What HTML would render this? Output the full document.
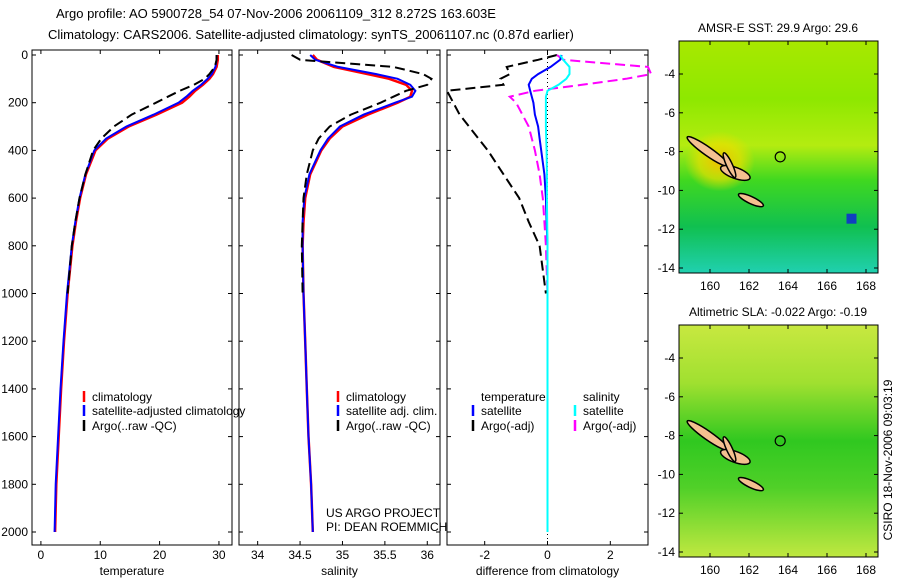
<!DOCTYPE html>
<html><head><meta charset="utf-8"><style>
body{margin:0;background:#fff}
svg{font-family:"Liberation Sans",sans-serif;font-size:12px}
</style></head><body>
<svg id="c" width="900" height="580" viewBox="0 0 900 580">
<defs>
<linearGradient id="sstg" x1="0" y1="0" x2="0" y2="1">
<stop offset="0" stop-color="#a8e800"/><stop offset="0.25" stop-color="#8ee800"/><stop offset="0.45" stop-color="#b4ec10"/><stop offset="0.6" stop-color="#40d820"/><stop offset="0.8" stop-color="#10c050"/><stop offset="1" stop-color="#20d0b0"/></linearGradient>
<linearGradient id="slag" x1="0" y1="0" x2="0" y2="1">
<stop offset="0" stop-color="#c8e840"/><stop offset="0.25" stop-color="#a0e030"/><stop offset="0.5" stop-color="#30c820"/><stop offset="0.7" stop-color="#50d028"/><stop offset="1" stop-color="#c0e840"/></linearGradient>
<radialGradient id="warm" cx="0.5" cy="0.5" r="0.5"><stop offset="0" stop-color="#f0c000"/><stop offset="0.6" stop-color="#e8e000" stop-opacity="0.7"/><stop offset="1" stop-color="#e8e000" stop-opacity="0"/></radialGradient>
</defs>
<text x="56" y="18" font-size="13">Argo profile: AO 5900728_54 07-Nov-2006 20061109_312 8.272S 163.603E</text>
<text x="48" y="39" font-size="13">Climatology: CARS2006. Satellite-adjusted climatology: synTS_20061107.nc (0.87d earlier)</text>
<g id="plots"></g>
<g id="maps"></g>
<text x="326" y="517">US ARGO PROJECT</text>
<text x="326" y="531">PI: DEAN ROEMMICH</text>
<text transform="translate(892,460) rotate(-90)" text-anchor="middle">CSIRO 18-Nov-2006 09:03:19</text>
</svg>
<script>
const depth=[0,20,50,80,100,125,150,175,200,250,300,350,400,500,600,700,800,1000,1200,1400,1600,1800,2000];
const tClim=[29.8,29.8,29.6,29.0,28.4,27.3,26.0,25.0,23.8,19.5,14.8,11.3,9.2,7.6,6.6,5.9,5.3,4.5,3.9,3.4,3.0,2.6,2.4];
const tSat=[29.6,29.6,29.4,28.8,28.1,27.0,25.6,24.5,23.2,19.0,14.4,11.0,9.0,7.5,6.5,5.8,5.2,4.4,3.8,3.3,2.9,2.5,2.3];
const tArgo=[29.6,29.6,29.3,28.4,27.6,25.8,23.4,21.4,19.4,15.3,12.3,10.2,8.8,7.5,6.5,5.8,5.2,4.5];
const sClim=[34.65,34.7,34.9,35.3,35.55,35.75,35.82,35.8,35.65,35.3,35.0,34.85,34.75,34.62,34.56,34.54,34.53,34.54,34.56,34.58,34.6,34.63,34.65];
const sSat=[34.62,34.68,34.95,35.4,35.65,35.8,35.86,35.82,35.62,35.25,34.97,34.83,34.74,34.61,34.55,34.53,34.53,34.54,34.56,34.58,34.6,34.63,34.65];
const sArgo=[34.4,34.5,35.6,35.95,36.05,36.0,35.75,35.6,35.45,35.1,34.85,34.72,34.65,34.58,34.54,34.53,34.52,34.53];
const dTSat=[0.45,0.4,0.1,-0.3,-0.5,-0.6,-0.55,-0.5,-0.45,-0.4,-0.3,-0.25,-0.2,-0.1,-0.05,-0.03,0,0,0,0,0,0,0];
const dTArgo=[0.3,-0.3,-1.3,-1.2,-1.5,-1.4,-3.2,-3.1,-3.0,-2.8,-2.5,-2.2,-1.9,-1.4,-0.9,-0.6,-0.25,-0.05];
const dSSat=[0.4,0.5,0.7,0.7,0.6,0.35,0.0,-0.05,-0.05,-0.05,-0.05,-0.04,-0.03,-0.02,-0.02,-0.01,0,0,0,0,0,0,0];
const dSArgo=[0.3,0.5,3.2,3.3,2.5,1.1,-0.4,-1.2,-1.0,-0.8,-0.6,-0.5,-0.4,-0.25,-0.15,-0.1,-0.05,0];
const depthTicks=[0,200,400,600,800,1000,1200,1400,1600,1800,2000];
const NS='http://www.w3.org/2000/svg';
function mk(p,t,a){const e=document.createElementNS(NS,t);for(const k in a)e.setAttribute(k,a[k]);p.appendChild(e);return e;}
const G=document.getElementById('plots');
const y=d=>55+d*477/2000;
const panels=[
 {x0:32,x1:232,v0:-1.5,v1:32.2,ticks:[0,10,20,30],lab:'temperature',name:'temperature'},
 {x0:239,x1:440,v0:33.78,v1:36.15,ticks:[34,34.5,35,35.5,36],lab:'salinity',name:'salinity'},
 {x0:447,x1:648,v0:-3.2,v1:3.2,ticks:[-2,0,2],lab:'difference from climatology',name:'difference'}];
panels.forEach((P,i)=>{
 P.x=v=>P.x0+(v-P.v0)/(P.v1-P.v0)*(P.x1-P.x0);
 const g=mk(G,'g',{});
 
 
 const r=mk(g,'rect',{x:P.x0,y:50,width:P.x1-P.x0,height:495,fill:'none',stroke:'#000'});
 
 
 depthTicks.forEach(d=>{
  mk(g,'line',{x1:P.x0,x2:P.x0+4,y1:y(d),y2:y(d),stroke:'#000'});
  mk(g,'line',{x1:P.x1,x2:P.x1-4,y1:y(d),y2:y(d),stroke:'#000'});
  if(i==0){const t=mk(g,'text',{x:28,y:y(d)+4,'text-anchor':'end'});t.textContent=d;
   
   }
 });
 P.ticks.forEach(v=>{
  mk(g,'line',{x1:P.x(v),x2:P.x(v),y1:545,y2:541,stroke:'#000'});
  mk(g,'line',{x1:P.x(v),x2:P.x(v),y1:50,y2:54,stroke:'#000'});
  const t=mk(g,'text',{x:P.x(v),y:559,'text-anchor':'middle'});t.textContent=v;
  
  
 });
 const t=mk(g,'text',{x:(P.x0+P.x1)/2,y:575,'text-anchor':'middle'});t.textContent=P.lab;
 
 
});
function line(P,vals,col,w,dash,name){
 const pts=vals.map((v,k)=>P.x(v).toFixed(1)+','+y(depth[k]).toFixed(1)).join(' ');
 const e=mk(G,'polyline',{points:pts,fill:'none',stroke:col,'stroke-width':w});
 if(dash)e.setAttribute('stroke-dasharray',dash);
 
 
}
const [P1,P2,P3]=panels;
line(P1,tClim,'#f00',2.5,null,'temperature-climatology-line');
line(P1,tSat,'#00f',2,null,'temperature-satellite-line');
line(P1,tArgo,'#000',2,'10,5','temperature-argo-line');
line(P2,sClim,'#f00',2.5,null,'salinity-climatology-line');
line(P2,sSat,'#00f',2,null,'salinity-satellite-line');
line(P2,sArgo,'#000',2,'10,5','salinity-argo-line');
mk(G,'line',{x1:P3.x(0),x2:P3.x(0),y1:50,y2:545,stroke:'#000','stroke-dasharray':'1,3'});
line(P3,dTArgo,'#000',2,'10,5','temp-diff-argo-line');
line(P3,dSArgo,'#f0f',2,'10,5','sal-diff-argo-line');
line(P3,dTSat,'#00f',2,null,'temp-diff-satellite-line');
line(P3,dSSat,'#0ff',2,null,'sal-diff-satellite-line');
function leg(x,yy,col,dash,txt,name){
 const g=mk(G,'g',{});
 
 
 mk(g,'line',{x1:x,x2:x,y1:yy-10,y2:yy+1,stroke:col,'stroke-width':2.5});
 const t=mk(g,'text',{x:x+8,y:yy});t.textContent=txt;
}
leg(84,401,'#f00',0,'climatology','legend-entry');
leg(84,415,'#00f',0,'satellite-adjusted climatology','legend-entry');
leg(84,430,'#000',0,'Argo(..raw -QC)','legend-entry');
leg(338,401,'#f00',0,'climatology','legend-entry');
leg(338,415,'#00f',0,'satellite adj. clim.','legend-entry');
leg(338,430,'#000',0,'Argo(..raw -QC)','legend-entry');
const tt=mk(G,'text',{x:481,y:401});tt.textContent='temperature';
const st=mk(G,'text',{x:583,y:401});st.textContent='salinity';
leg(473,415,'#00f',0,'satellite','legend-entry');
leg(473,430,'#000',0,'Argo(-adj)','legend-entry');
leg(575,415,'#0ff',0,'satellite','legend-entry');
leg(575,430,'#f0f',0,'Argo(-adj)','legend-entry');
// maps
const M=document.getElementById('maps');
const lonTicks=[160,162,164,166,168], latTicks=[-4,-6,-8,-10,-12,-14];
const islands=[[159.9,-8.0,1.3,0.22,35],[161.3,-9.1,0.8,0.28,20],[161.0,-8.7,0.15,0.7,-25],[162.1,-10.5,0.7,0.18,25]];
[[41,'AMSR-E SST: 29.9 Argo: 29.6','sst','url(#sstg)'],[325,'Altimetric SLA: -0.022 Argo: -0.19','sla','url(#slag)']].forEach(([top,title,nm,fill])=>{
 const g=mk(M,'g',{});
 
 
 const lx=v=>710+(v-160)*19.5, ly=v=>top+33+(-4-v)*19.4;
 mk(g,'rect',{x:679,y:top,width:199,height:232,fill:fill});
 if(nm=='sst'){mk(g,'ellipse',{cx:lx(160.5),cy:ly(-8.5),rx:35,ry:30,fill:'url(#warm)'});
  mk(g,'rect',{x:lx(167),y:ly(-11.2),width:10,height:10,fill:'#1040c0'});}
 islands.forEach(s=>{mk(g,'ellipse',{cx:lx(s[0]),cy:ly(s[1]),rx:s[2]*19.5,ry:s[3]*19.4,transform:`rotate(${s[4]} ${lx(s[0])} ${ly(s[1])})`,fill:'#f4c090',stroke:'#000','stroke-width':1.5});});
 const c=mk(g,'circle',{cx:lx(163.6),cy:ly(-8.27),r:5,fill:'none',stroke:'#000','stroke-width':1.2});
 
 
 mk(g,'rect',{x:679,y:top,width:199,height:232,fill:'none',stroke:'#000'});
 const t=mk(g,'text',{x:778,y:top-9,'text-anchor':'middle'});t.textContent=title;
 
 
 lonTicks.forEach(v=>{mk(g,'line',{x1:lx(v),x2:lx(v),y1:top+232,y2:top+228,stroke:'#000'});mk(g,'line',{x1:lx(v),x2:lx(v),y1:top,y2:top+4,stroke:'#000'});
  const l=mk(g,'text',{x:lx(v),y:top+249,'text-anchor':'middle'});l.textContent=v;});
 latTicks.forEach(v=>{mk(g,'line',{x1:679,x2:683,y1:ly(v),y2:ly(v),stroke:'#000'});mk(g,'line',{x1:878,x2:874,y1:ly(v),y2:ly(v),stroke:'#000'});
  const l=mk(g,'text',{x:675,y:ly(v)+4,'text-anchor':'end'});l.textContent=v;});
});
</script>
</body></html>
